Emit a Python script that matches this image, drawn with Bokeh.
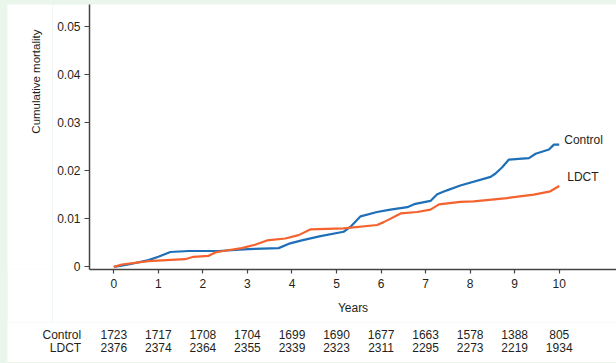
import math
from bokeh.plotting import figure
from bokeh.models import Range1d, FixedTicker, NumeralTickFormatter, Label, Spacer
from bokeh.core.properties import value
from bokeh.layouts import column, row
from bokeh.embed import file_html
from bokeh.resources import INLINE

# ---- data ----
control_years = [0, 0.33, 0.78, 1.0, 1.27, 1.68, 2.35, 3.02, 3.7, 3.96, 4.22, 4.64, 5.16, 5.31,
                 5.54, 5.91, 6.21, 6.59, 6.77, 7.11, 7.26, 7.48, 7.78, 8.46, 8.57, 8.72, 8.87,
                 9.32, 9.47, 9.77, 9.88, 10.0]
control_mort = [0, 0.0005, 0.0014, 0.0021, 0.0031, 0.0033, 0.0033, 0.0037, 0.0039, 0.0049, 0.0055,
                0.0064, 0.0073, 0.0083, 0.0105, 0.0114, 0.0119, 0.0124, 0.0131, 0.0137, 0.0151,
                0.0159, 0.0169, 0.0187, 0.0194, 0.0207, 0.0223, 0.0226, 0.0235, 0.0244, 0.0254, 0.0254]

ldct_years = [0, 0.18, 0.78, 1.6, 1.79, 2.13, 2.28, 2.46, 2.87, 3.17, 3.44, 3.85, 4.15, 4.42,
              5.16, 5.91, 6.06, 6.44, 6.81, 7.11, 7.3, 7.78, 8.08, 8.83, 9.43, 9.8, 10.0]
ldct_mort = [0, 0.0005, 0.0012, 0.0016, 0.0021, 0.0023, 0.003, 0.0033, 0.0039, 0.0046, 0.0055,
             0.0059, 0.0066, 0.0078, 0.008, 0.0087, 0.0093, 0.0111, 0.0114, 0.0119, 0.013, 0.0135,
             0.0136, 0.0143, 0.015, 0.0157, 0.0168]

risk_years = [0, 1, 2, 3, 4, 5, 6, 7, 8, 9, 10]
control_at_risk = [1723, 1717, 1708, 1704, 1699, 1690, 1677, 1663, 1578, 1388, 805]
ldct_at_risk = [2376, 2374, 2364, 2355, 2339, 2323, 2311, 2295, 2273, 2219, 1934]
group_names = ["Control", "LDCT"]

y_ticks = [0, 0.01, 0.02, 0.03, 0.04, 0.05]

# ---- style ----
FONT = "Liberation Sans"
FS = "12px"
TXT = "#231f20"
BLUE = "#1f6fb8"
ORANGE = "#f4622e"
AXIS = "#444444"
BG = "#eaf6ec"

LEFT_W = 45          # width of the strip holding the y title
MAIN_W = 564
MAIN_H = 318
FRAME_LEFT = 37      # border inside main figure
FRAME_H = 265
TABLE_H = 40

X0, X1 = -0.546, 11.286
p = figure(width=MAIN_W, height=MAIN_H, output_backend="svg", toolbar_location=None,
           x_range=Range1d(X0, X1), y_range=Range1d(-0.00054, 0.0545),
           min_border_left=FRAME_LEFT, min_border_right=0, min_border_top=0,
           min_border_bottom=MAIN_H - FRAME_H)
p.outline_line_color = None
p.grid.visible = False

p.line(control_years, control_mort, line_color=BLUE, line_width=2.2)
p.line(ldct_years, ldct_mort, line_color=ORANGE, line_width=2.2)

# axes
p.xaxis.ticker = FixedTicker(ticks=risk_years)
p.yaxis.ticker = FixedTicker(ticks=y_ticks)
p.yaxis.formatter = NumeralTickFormatter(format="0.[00]")
for ax in (p.xaxis[0], p.yaxis[0]):
    ax.axis_line_color = AXIS
    ax.axis_line_width = 1.5
    ax.major_tick_line_color = AXIS
    ax.major_tick_line_width = 1.2
    ax.major_tick_in = 0
    ax.minor_tick_line_color = None
    ax.major_label_text_font = FONT
    ax.major_label_text_font_size = FS
    ax.major_label_text_color = TXT
p.xaxis.major_tick_out = 4
p.yaxis.major_tick_out = 5
p.xaxis.major_label_standoff = 5
p.yaxis.major_label_standoff = 4
p.xaxis.axis_label = "Years"
p.xaxis.axis_label_text_font = FONT
p.xaxis.axis_label_text_font_size = FS
p.xaxis.axis_label_text_font_style = "normal"
p.xaxis.axis_label_text_color = TXT
p.xaxis.axis_label_standoff = 10

# curve labels
p.add_layout(Label(x=control_years[-1], y=control_mort[-1], x_offset=5, y_offset=5,
                   text=group_names[0], text_align="left", text_baseline="middle",
                   text_font=FONT, text_font_size=FS, text_color=TXT))
p.add_layout(Label(x=ldct_years[-1], y=ldct_mort[-1], x_offset=8, y_offset=9,
                   text=group_names[1], text_align="left", text_baseline="middle",
                   text_font=FONT, text_font_size=FS, text_color=TXT))

# ---- left strip with the y title ----
ylab = figure(width=LEFT_W, height=MAIN_H, output_backend="svg", toolbar_location=None,
              x_range=Range1d(0, LEFT_W), y_range=Range1d(0, MAIN_H),
              min_border=0, outline_line_color=None)
ylab.axis.visible = False
ylab.grid.visible = False
ylab.text(x=[28], y=[MAIN_H - 92.5], text=["Cumulative mortality"], angle=math.pi / 2,
          text_align="center", text_baseline="middle", text_font=value(FONT),
          text_font_size="11.5px", text_color=TXT)

# ---- at-risk table below, sharing the x scale ----
px_per_unit = (MAIN_W - FRAME_LEFT) / (X1 - X0)
TW = LEFT_W + MAIN_W
tx0 = X0 - (LEFT_W + FRAME_LEFT) / px_per_unit
tab = figure(width=TW, height=TABLE_H, output_backend="svg", toolbar_location=None,
             x_range=Range1d(tx0, tx0 + TW / px_per_unit), y_range=Range1d(0, TABLE_H),
             min_border=0, outline_line_color=None)
tab.axis.visible = False
tab.grid.visible = False
ROW_Y = [TABLE_H - 12.3, TABLE_H - 25.3]
name_x = X0 - 8.3 / px_per_unit
tab.text(x=[name_x, name_x], y=ROW_Y, text=group_names, text_align="right",
         text_baseline="middle", text_font=value(FONT), text_font_size=FS, text_color=TXT)
tab.text(x=risk_years, y=[ROW_Y[0]] * len(risk_years), text=[str(v) for v in control_at_risk],
         text_align="center", text_baseline="middle", text_font=value(FONT),
         text_font_size=FS, text_color=TXT)
tab.text(x=risk_years, y=[ROW_Y[1]] * len(risk_years), text=[str(v) for v in ldct_at_risk],
         text_align="center", text_baseline="middle", text_font=value(FONT),
         text_font_size=FS, text_color=TXT)

layout = column(Spacer(width=616, height=4),
                row(Spacer(width=7, height=MAIN_H), ylab, p),
                row(Spacer(width=7, height=TABLE_H), tab),
                Spacer(width=616, height=1),
                styles={"background-color": BG})

open("out.html", "w").write(file_html(layout, INLINE))
